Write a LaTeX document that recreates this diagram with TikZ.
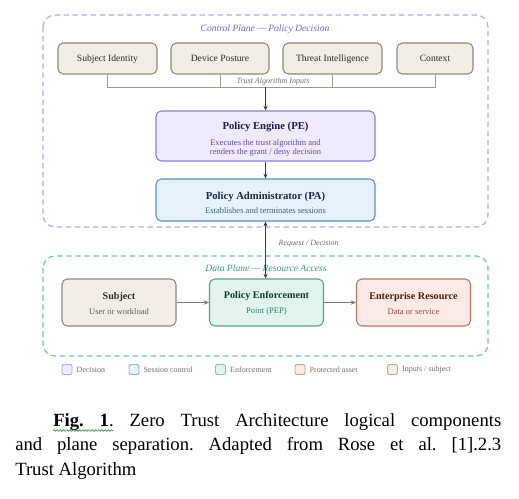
\documentclass[tikz,border=0pt]{standalone}
\usepackage{fontspec}
\setmainfont{Liberation Serif}
\usetikzlibrary{positioning,arrows.meta,decorations.pathmorphing}
\definecolor{cpline}{HTML}{B2A8EE}
\definecolor{cptext}{HTML}{7466CC}
\definecolor{dpline}{HTML}{6FC6A8}
\definecolor{dptext}{HTML}{3A9A7E}
\definecolor{inputfill}{HTML}{F1EEE8}
\definecolor{inputline}{HTML}{8E8A82}
\definecolor{inputtext}{HTML}{2E2C28}
\definecolor{inputsub}{HTML}{5E5A54}
\definecolor{pefill}{HTML}{EFEBFC}
\definecolor{peline}{HTML}{8A7EDD}
\definecolor{petitle}{HTML}{1F1A4E}
\definecolor{pesub}{HTML}{5A4EA6}
\definecolor{pafill}{HTML}{E6F1FB}
\definecolor{paline}{HTML}{5D90C8}
\definecolor{patitle}{HTML}{1A2A4A}
\definecolor{pasub}{HTML}{3C5F8C}
\definecolor{pepfill}{HTML}{E2F4EE}
\definecolor{pepline}{HTML}{50A889}
\definecolor{peptitle}{HTML}{10392D}
\definecolor{pepsub}{HTML}{2F7D65}
\definecolor{erfill}{HTML}{FBEAE5}
\definecolor{erline}{HTML}{C27262}
\definecolor{ertitle}{HTML}{4A1D14}
\definecolor{ersub}{HTML}{8C4A3C}
\definecolor{wire}{HTML}{9C988F}
\definecolor{darkarrow}{HTML}{3C3C3C}
\definecolor{grayarrow}{HTML}{7A7A7A}
\definecolor{labelgray}{HTML}{6E6E6E}
\definecolor{spellgreen}{HTML}{3C9A3C}
\newcommand{\boxheadfont}{\fontsize{8}{9}\selectfont\bfseries}
\newcommand{\dataheadfont}{\fontsize{7.6}{9}\selectfont\bfseries}
\tikzset{
  box/.style={rounded corners=4pt, line width=0.8pt, align=center, inner sep=0pt,
    font=\fontsize{6.4}{6.9}\selectfont},
  inbox/.style={box, draw=inputline, fill=inputfill, text=inputtext,
    minimum height=23.25pt, text height=5.6pt, text depth=0.4pt,
    font=\fontsize{7.2}{8.6}\selectfont},
  pebox/.style={box, draw=peline, fill=pefill, text=pesub},
  pabox/.style={box, draw=paline, fill=pafill, text=pasub},
  subjbox/.style={box, draw=inputline, fill=inputfill, text=inputsub,
    minimum width=85.5pt, minimum height=35.25pt},
  pepbox/.style={box, draw=pepline, fill=pepfill, text=pepsub,
    minimum width=85.5pt, minimum height=35.25pt},
  erbox/.style={box, draw=erline, fill=erfill, text=ersub,
    minimum width=85.5pt, minimum height=35.25pt},
  plane/.style={rounded corners=9pt, line width=0.9pt, dash pattern=on 4pt off 2.8pt},
  planetitle/.style={font=\fontsize{7.2}{8}\selectfont\itshape},
  smalllabel/.style={font=\fontsize{6}{7}\selectfont\itshape, text=labelgray},
  wireline/.style={draw=wire, line width=0.7pt},
  downarrow/.style={draw=darkarrow, line width=0.8pt, -{Stealth[length=3.5pt,width=3pt]}},
  flowarrow/.style={draw=grayarrow, line width=1pt, -{Stealth[length=4pt,width=3.5pt]}},
  legsq/.style={rounded corners=1.5pt, line width=0.7pt, minimum size=7.5pt, inner sep=0pt},
  legtext/.style={font=\fontsize{6}{7}\selectfont, text=labelgray, inner sep=0pt},
}
\begin{document}
\begin{tikzpicture}[x=0.75pt, y=-0.75pt]
  \useasboundingbox[fill=white] (0,0) rectangle (519,499);

  % Control plane frame
  \draw[plane, draw=cpline] (43,15) rectangle (488,227);
  \node[planetitle, text=cptext] (cptitle) at (265,29) {Control Plane — Policy Decision};

  % Trust algorithm inputs
  \node[inbox, minimum width=74.25pt] (SI) at (107.5,58.5) {Subject Identity};
  \node[inbox, minimum width=73.5pt] (DP) at (220,58.5) {Device Posture};
  \node[inbox, minimum width=74.25pt] (TI) at (332.5,58.5) {Threat Intelligence};
  \node[inbox, minimum width=57pt] (CX) at (435,58.5) {Context};

  % Collecting bracket
  \coordinate (join) at (265.5,87);
  \draw[wireline] (SI.south) -- (SI.south |- join) -| (CX.south);
  \draw[wireline] (DP.south) -- (DP.south |- join);
  \draw[wireline] (TI.south) -- (TI.south |- join);
  \node[smalllabel] (inputslabel) at (273,81.5) {Trust Algorithm Inputs};

  % Policy engine and administrator
  \node[pebox, minimum width=164.25pt, minimum height=37.5pt] (PE) at (265.5,136)
    {\textcolor{petitle}{\rule{0pt}{10.5pt}\boxheadfont Policy Engine (PE)}\\[4.5pt]
     Executes the trust algorithm and\\renders the grant / deny decision};
  \node[pabox, minimum width=164.25pt, minimum height=31.5pt] (PA) at (265.5,200)
    {\textcolor{patitle}{\rule{0pt}{10pt}\boxheadfont Policy Administrator (PA)}\\[4pt]
     Establishes and terminates sessions};

  \draw[downarrow] (join) -- (PE.north);
  \draw[downarrow] (PE.south) -- (PA.north);

  % Data plane frame
  \draw[plane, draw=dpline] (43,256) rectangle (488,356);
  \node[planetitle, text=dptext] (dptitle) at (266,268) {Data Plane — Resource Access};

  % Data plane components
  \node[subjbox] (subject) at (119,302.5)
    {\textcolor{inputtext}{\rule{0pt}{7pt}\dataheadfont Subject}\\[4pt]User or workload};
  \node[pepbox] (PEP) at (266.5,302.5)
    {\textcolor{peptitle}{\rule{0pt}{7pt}\dataheadfont Policy Enforcement}\\[4pt]Point (PEP)};
  \node[erbox] (ER) at (413.5,302.5)
    {\textcolor{ertitle}{\rule{0pt}{7pt}\dataheadfont Enterprise Resource}\\[4pt]Data or service};

  \draw[flowarrow] (subject.east) -- (PEP.west);
  \draw[flowarrow] (PEP.east) -- (ER.west);

  % Request / decision channel
  \draw[draw=darkarrow, line width=0.8pt, {Stealth[length=3.5pt,width=3pt]}-{Stealth[length=3.5pt,width=3pt]}]
    (PA.south) -- (PA.south |- PEP.north);
  \node[smalllabel, anchor=west] (reqlabel) at (274,244) {Request / Decision};

  % Legend
  \node[legsq, fill=pefill, draw=peline!70] (lgPE) at (67,369.5) {};
  \node[legtext, right=3pt of lgPE] (lgPEtxt) {Decision};
  \node[legsq, fill=pafill, draw=paline!70] (lgPA) at (134,369.5) {};
  \node[legtext, right=3pt of lgPA] (lgPAtxt) {Session control};
  \node[legsq, fill=pepfill, draw=pepline!70] (lgPEP) at (220.5,369.5) {};
  \node[legtext, right=3pt of lgPEP] (lgPEPtxt) {Enforcement};
  \node[legsq, fill=erfill, draw=erline!70] (lgER) at (300,369.5) {};
  \node[legtext, right=3pt of lgER] (lgERtxt) {Protected asset};
  \node[legsq, fill=inputfill, draw=inputline!70] (lgIN) at (392.5,369.5) {};
  \node[legtext, right=3pt of lgIN] (lgINtxt) {Inputs / subject};

  % Caption
  \node[anchor=north west, text width=364.5pt, align=justify, inner sep=0pt,
    font=\fontsize{14}{18.4}\selectfont\frenchspacing] (caption) at (15,413)
    {\hspace*{28.5pt}\textbf{Fig. 1}. Zero Trust Architecture logical components\linebreak
     and plane separation. Adapted from Rose et al. [1].2.3\linebreak
     Trust Algorithm};
  \draw[spellgreen, line width=0.5pt, decorate,
    decoration={snake, amplitude=0.6pt, segment length=2.4pt}] (53,430.5) -- (113,430.5);
\end{tikzpicture}
\end{document}
